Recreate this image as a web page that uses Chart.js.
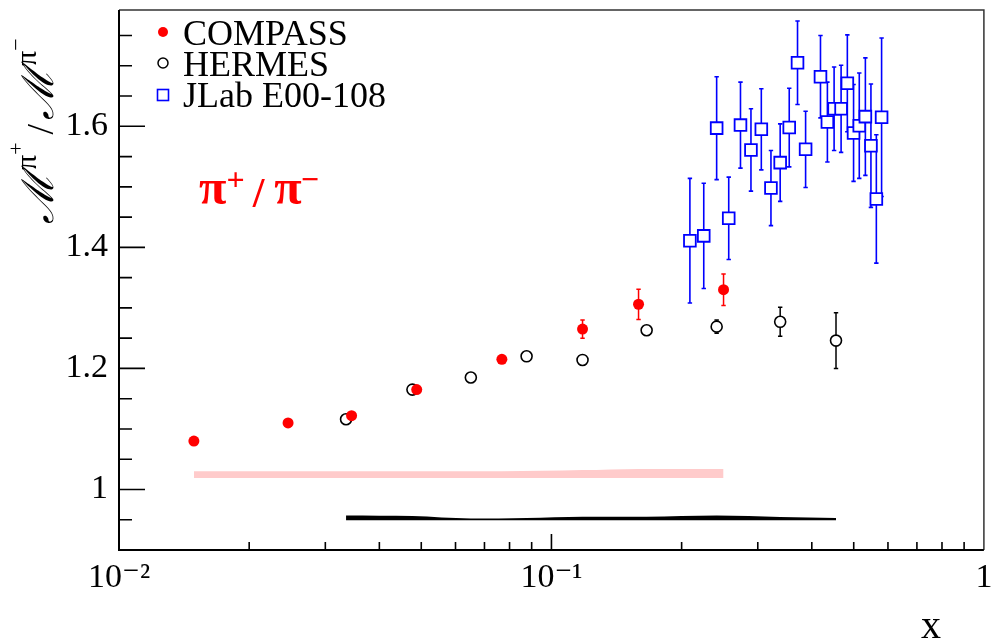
<!DOCTYPE html>
<html><head><meta charset="utf-8">
<script src="https://cdn.jsdelivr.net/npm/chart.js@4.4.1/dist/chart.umd.min.js"></script>
<style>html,body{margin:0;padding:0;background:#fff;}#wrap{position:relative;width:994px;height:640px;}</style>
</head><body><div id="wrap"><canvas id="c" width="994" height="640"></canvas></div>
<script>
// ---- data ----
const compassX   = [0.0149, 0.0246, 0.0345, 0.0488, 0.0768, 0.118, 0.159, 0.250];
const compassY   = [1.080, 1.110, 1.122, 1.165, 1.215, 1.265, 1.306, 1.330];
const compassErr = [0.003, 0.003, 0.003, 0.004, 0.004, 0.015, 0.025, 0.026];
const compassSysLo = [1.019, 1.019, 1.019, 1.019, 1.019, 1.019, 1.019, 1.019];
const compassSysHi = [1.030, 1.030, 1.030, 1.030, 1.030, 1.032, 1.034, 1.034];

const hermesX   = [0.0335, 0.0477, 0.0651, 0.0876, 0.118, 0.166, 0.241, 0.338, 0.455];
const hermesY   = [1.116, 1.165, 1.185, 1.220, 1.214, 1.263, 1.269, 1.277, 1.246];
const hermesErr = [0.003, 0.003, 0.003, 0.003, 0.004, 0.005, 0.011, 0.024, 0.046];
const hermesSysLo = [0.949, 0.949, 0.949, 0.949, 0.949, 0.949, 0.949, 0.949, 0.949];
const hermesSysHi = [0.957, 0.956, 0.952, 0.953, 0.955, 0.955, 0.957, 0.9545, 0.953];

const jlabX   = [0.209, 0.225, 0.241, 0.257, 0.2736, 0.2893, 0.3057, 0.3218, 0.338, 0.3547, 0.3707, 0.387,
                 0.4189, 0.4346, 0.4504, 0.4675, 0.4833, 0.4996, 0.515, 0.532, 0.548, 0.564, 0.580];
const jlabY   = [1.411, 1.419, 1.597, 1.448, 1.602, 1.561, 1.595, 1.498, 1.540, 1.598, 1.705, 1.562,
                 1.682, 1.607, 1.629, 1.629, 1.671, 1.589, 1.601, 1.616, 1.568, 1.480, 1.615];
const jlabErr = [0.103, 0.087, 0.085, 0.068, 0.071, 0.068, 0.067, 0.062, 0.064, 0.065, 0.069, 0.063,
                 0.068, 0.066, 0.069, 0.072, 0.080, 0.080, 0.087, 0.097, 0.102, 0.106, 0.131];

const seriesNames = ['COMPASS', 'HERMES', 'JLab E00-108'];
const xMajorTicks = [0.01, 0.1, 1];
const xTickLabels = ['10\u207B\u00B2', '10\u207B\u00B9', '1'];
const yMajorTicks = [1, 1.2, 1.4, 1.6];
const yTickLabels = ['1', '1.2', '1.4', '1.6'];
const xMin = 0.01, xMax = 1, yMin = 0.9, yMax = 1.792;

// ---- helpers ----
const pts = (xs, ys) => xs.map((x, i) => ({x: x, y: ys[i]}));
const near = (a, b) => Math.abs(a - b) < 1e-9;

const RED = '#ff0000', BLUE = '#0000ff', BLACK = '#000000';

const datasets = [
  {label: seriesNames[0], data: pts(compassX, compassY), showLine: false, order: 0,
   pointStyle: 'circle', pointRadius: 5.5, pointBackgroundColor: RED, pointBorderColor: RED, pointBorderWidth: 0},
  {label: seriesNames[1], data: pts(hermesX, hermesY), showLine: false, order: 1,
   pointStyle: 'circle', pointRadius: 5.5, pointBackgroundColor: '#ffffff', pointBorderColor: BLACK, pointBorderWidth: 1.6},
  {label: seriesNames[2], data: pts(jlabX, jlabY), showLine: false, order: 2,
   pointStyle: 'rect', pointRadius: 8.3, pointBackgroundColor: '#ffffff', pointBorderColor: BLUE, pointBorderWidth: 1.8},
  // COMPASS systematic band (index 3 lower, 4 upper)
  {label: 'csl', data: pts(compassX, compassSysLo), showLine: true, order: 10, pointRadius: 0,
   borderWidth: 0, borderColor: 'rgba(0,0,0,0)', fill: false, cubicInterpolationMode: 'monotone'},
  {label: 'csh', data: pts(compassX, compassSysHi), showLine: true, order: 9, pointRadius: 0,
   borderWidth: 0, borderColor: 'rgba(0,0,0,0)', fill: 3, backgroundColor: '#ffcbcb', cubicInterpolationMode: 'monotone'},
  // HERMES systematic band (index 5 lower, 6 upper)
  {label: 'hsl', data: pts(hermesX, hermesSysLo), showLine: true, order: 12, pointRadius: 0,
   borderWidth: 0, borderColor: 'rgba(0,0,0,0)', fill: false, cubicInterpolationMode: 'monotone'},
  {label: 'hsh', data: pts(hermesX, hermesSysHi), showLine: true, order: 11, pointRadius: 0,
   borderWidth: 0, borderColor: 'rgba(0,0,0,0)', fill: 5, backgroundColor: '#000000', cubicInterpolationMode: 'monotone'}
];

const errSets = [
  {xs: compassX, ys: compassY, es: compassErr, color: RED, w: 1.5, r: 5.5},
  {xs: hermesX, ys: hermesY, es: hermesErr, color: BLACK, w: 1.5, r: 5.5},
  {xs: jlabX, ys: jlabY, es: jlabErr, color: BLUE, w: 1.6, r: 6}
];

const SERIF = '"Liberation Serif", "Times New Roman", "DejaVu Serif", serif';

const decor = {
  id: 'decor',
  beforeDatasetsDraw(chart) {
    const ctx = chart.ctx, xs = chart.scales.x, ys = chart.scales.y;
    ctx.save();
    errSets.forEach(s => {
      ctx.strokeStyle = s.color; ctx.lineWidth = s.w;
      s.xs.forEach((x, i) => {
        const px = xs.getPixelForValue(x);
        const pt = ys.getPixelForValue(s.ys[i] + s.es[i]);
        const pb = ys.getPixelForValue(s.ys[i] - s.es[i]);
        const pc = ys.getPixelForValue(s.ys[i]);
        if (pc - pt <= s.r) return;
        ctx.beginPath();
        ctx.moveTo(px, pt); ctx.lineTo(px, pb);
        ctx.moveTo(px - 2.2, pt); ctx.lineTo(px + 2.2, pt);
        ctx.moveTo(px - 2.2, pb); ctx.lineTo(px + 2.2, pb);
        ctx.stroke();
      });
    });
    ctx.restore();
  },
  afterDraw(chart) {
    const ctx = chart.ctx, xs = chart.scales.x, ys = chart.scales.y, a = chart.chartArea;
    ctx.save();
    // frame
    ctx.strokeStyle = '#333'; ctx.lineWidth = 1.5;
    ctx.beginPath(); ctx.moveTo(a.left, a.top); ctx.lineTo(a.right, a.top); ctx.lineTo(a.right, a.bottom); ctx.stroke();
    ctx.strokeStyle = '#000'; ctx.lineWidth = 2;
    ctx.beginPath(); ctx.moveTo(a.left, a.top); ctx.lineTo(a.left, a.bottom); ctx.lineTo(a.right, a.bottom); ctx.stroke();
    // inward ticks
    ctx.lineWidth = 1.6;
    ctx.beginPath();
    xs.ticks.forEach(t => {
      const px = xs.getPixelForValue(t.value);
      const major = xMajorTicks.some(m => near(m, t.value));
      if (px <= a.left + 1 || px >= a.right - 1) return;
      ctx.moveTo(px, a.bottom); ctx.lineTo(px, a.bottom - (major ? 16 : 8));
    });
    ys.ticks.forEach(t => {
      const py = ys.getPixelForValue(t.value);
      const major = yMajorTicks.some(m => near(m, t.value));
      if (py >= a.bottom - 1 || py <= a.top + 1) return;
      ctx.moveTo(a.left, py); ctx.lineTo(a.left + (major ? 26 : 13), py);
    });
    ctx.stroke();

    // legend
    const lx = 163, rows = [32, 63, 95];
    ctx.fillStyle = RED; ctx.beginPath(); ctx.arc(lx, rows[0], 5, 0, Math.PI * 2); ctx.fill();
    ctx.strokeStyle = BLACK; ctx.lineWidth = 1.5; ctx.fillStyle = '#fff';
    ctx.beginPath(); ctx.arc(lx, rows[1], 5, 0, Math.PI * 2); ctx.fill(); ctx.stroke();
    ctx.strokeStyle = BLUE; ctx.lineWidth = 1.6;
    ctx.strokeRect(lx - 5.5, rows[2] - 5.5, 11, 11);
    ctx.fillStyle = '#000'; ctx.font = '36px ' + SERIF; ctx.textBaseline = 'alphabetic'; ctx.textAlign = 'left';
    const base = [45, 76, 107];
    seriesNames.forEach((n, i) => ctx.fillText(n, 183, base[i]));

    // pi+/pi- annotation
    ctx.fillStyle = RED;
    let x = 199;
    const big = 'bold 50px ' + SERIF, sup = 'bold 32px ' + SERIF;
    ctx.font = big; ctx.fillText('\u03C0', x, 204); x += ctx.measureText('\u03C0').width;
    ctx.font = sup; ctx.fillText('+', x, 190); x += ctx.measureText('+').width + 8;
    ctx.font = 'bold 42px ' + SERIF; ctx.fillText('/', x, 207); x += ctx.measureText('/').width + 10;
    ctx.font = big; ctx.fillText('\u03C0', x, 204); x += ctx.measureText('\u03C0').width - 1;
    ctx.font = sup; ctx.fillText('\u2212', x, 190);

    // y title (rotated)
    ctx.save();
    ctx.translate(53, 224); ctx.rotate(-Math.PI / 2);
    ctx.fillStyle = '#000';
    let t = 0;
    const M = 'italic 44px ' + SERIF, sp = '30px ' + SERIF, ss = '22px ' + SERIF;
    ctx.font = M; ctx.fillText('\u2133', t, 0); t += ctx.measureText('\u2133').width + 3;
    ctx.font = sp; ctx.fillText('\u03C0', t, -17); t += ctx.measureText('\u03C0').width;
    ctx.font = ss; ctx.fillText('+', t, -30); t += ctx.measureText('+').width + 8;
    ctx.font = '38px ' + SERIF; ctx.fillText('/', t, 0); t += ctx.measureText('/').width + 4;
    ctx.font = M; ctx.fillText('\u2133', t, 0); t += ctx.measureText('\u2133').width + 3;
    ctx.font = sp; ctx.fillText('\u03C0', t, -17); t += ctx.measureText('\u03C0').width;
    ctx.font = ss; ctx.fillText('\u2212', t, -30);
    ctx.restore();

    // x title
    ctx.fillStyle = '#000'; ctx.font = '40px ' + SERIF; ctx.textAlign = 'left';
    ctx.fillText('x', 921, 638);
    ctx.restore();
  }
};

function zeroPad(s) { s.paddingTop = 0; s.paddingBottom = 0; s.paddingLeft = 0; s.paddingRight = 0; }

new Chart(document.getElementById('c'), {
  type: 'line',
  data: {datasets: datasets},
  options: {
    responsive: false, animation: false, devicePixelRatio: 1,
    layout: {padding: {top: 9, right: 7, left: 0, bottom: 0}},
    plugins: {legend: {display: false}, tooltip: {enabled: false}, filler: {propagate: false}},
    scales: {
      x: {
        type: 'logarithmic', min: xMin, max: xMax,
        grid: {display: false, drawTicks: false}, border: {display: false},
        afterBuildTicks: s => {
          const t = [];
          [0.01, 0.1].forEach(d => { for (let k = 1; k <= 9; k++) t.push({value: +(d * k).toPrecision(6)}); });
          t.push({value: 1});
          s.ticks = t;
        },
        afterFit: s => { s.height = 90; zeroPad(s); },
        ticks: {
          autoSkip: false, maxRotation: 0, minRotation: 0, padding: 8, color: '#000',
          font: {family: SERIF, size: 34},
          callback: function (v) {
            const i = xMajorTicks.findIndex(m => near(m, v));
            return i >= 0 ? xTickLabels[i] : '';
          }
        }
      },
      y: {
        type: 'linear', min: yMin, max: yMax,
        grid: {display: false, drawTicks: false}, border: {display: false},
        afterBuildTicks: s => {
          const t = [];
          for (let k = 1; k <= 17; k++) t.push({value: +(0.9 + 0.05 * k).toFixed(2)});
          s.ticks = t;
        },
        afterFit: s => { s.width = 119; zeroPad(s); },
        ticks: {
          autoSkip: false, padding: 11, color: '#000',
          font: {family: SERIF, size: 34},
          callback: function (v) {
            const i = yMajorTicks.findIndex(m => near(m, v));
            return i >= 0 ? yTickLabels[i] : '';
          }
        }
      }
    }
  },
  plugins: [decor]
});
</script></body></html>
